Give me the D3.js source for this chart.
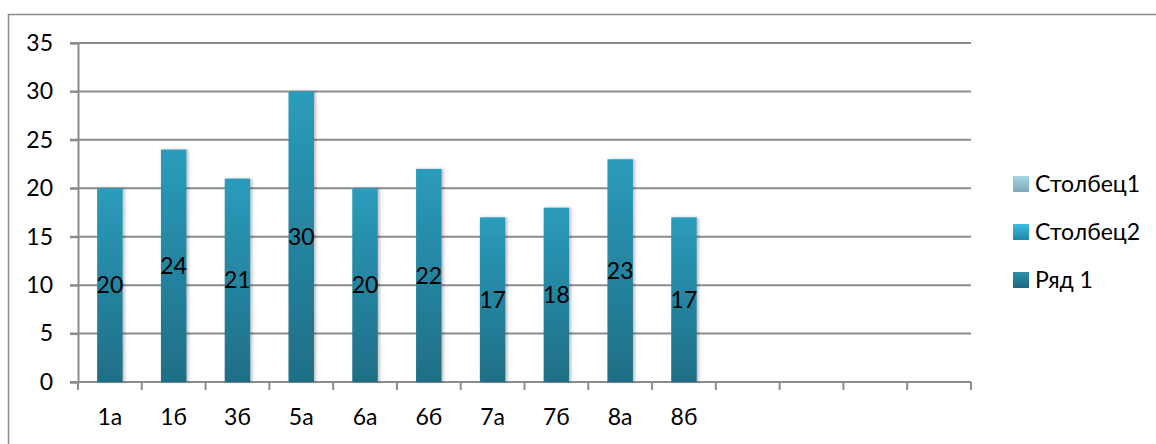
<!DOCTYPE html>
<html>
<head>
<meta charset="utf-8">
<script src="https://cdn.jsdelivr.net/npm/d3@7"></script>
<style>
  body { margin: 0; background: #fff; }
  text { font-family: Lato, "Open Sans", sans-serif; fill: #000; }
</style>
</head>
<body>
<script>
// Chart data
var categories = ["1а", "1б", "3б", "5а", "6а", "6б", "7а", "7б", "8а", "8б", "", " ", "  ", "   "];
var values = [20, 24, 21, 30, 20, 22, 17, 18, 23, 17];
var yTicks = [0, 5, 10, 15, 20, 25, 30, 35];
var legendNames = ["Столбец1", "Столбец2", "Ряд 1"];

var width = 1156, height = 444;
var margin = {top: 43, right: 185, bottom: 62, left: 78},
    plotW = width - margin.left - margin.right,
    plotH = height - margin.top - margin.bottom;

var svg = d3.select("body").append("svg")
    .attr("width", width)
    .attr("height", height);

// gradients for bars and legend keys
var defs = svg.append("defs");
function grad(id, top, bottom) {
  var g = defs.append("linearGradient").attr("id", id)
      .attr("x1", 0).attr("y1", 0).attr("x2", 0).attr("y2", 1);
  g.append("stop").attr("offset", "0%").attr("stop-color", top);
  g.append("stop").attr("offset", "100%").attr("stop-color", bottom);
}
grad("barGrad", "#2a9cbb", "#1f6e86");
grad("leg0", "#a6d6e6", "#7ea9ba");
grad("leg1", "#3bbde0", "#1f86a6");
grad("leg2", "#2b8fae", "#1e6880");

var shadow = defs.append("filter").attr("id", "shadow")
    .attr("x", "-20%").attr("y", "-5%").attr("width", "150%").attr("height", "110%");
shadow.append("feDropShadow").attr("dx", 2).attr("dy", 0)
    .attr("stdDeviation", 1.5).attr("flood-color", "#000").attr("flood-opacity", 0.25);

// outer chart border
svg.append("rect")
    .attr("x", 8.5).attr("y", 14.5)
    .attr("width", 1160).attr("height", 440)
    .attr("fill", "none").attr("stroke", "#8a8a8a").attr("stroke-width", 1.5);

var g = svg.append("g")
    .attr("transform", "translate(" + margin.left + "," + margin.top + ")");

var x = d3.scaleBand().domain(categories).range([0, plotW]).paddingInner(0.6).paddingOuter(0.3);
var xEdge = d3.scaleBand().domain(categories).range([0, plotW]);
var y = d3.scaleLinear().domain([0, 35]).range([plotH, 0]);

// horizontal gridlines
g.selectAll(".grid")
  .data(yTicks)
  .enter().append("line")
    .attr("x1", -8).attr("x2", plotW)
    .attr("y1", d => y(d)).attr("y2", d => y(d))
    .attr("stroke", "#8c8c8c").attr("stroke-width", 2);

// y axis
var yAxis = g.append("g")
    .call(d3.axisLeft(y).tickValues(yTicks).tickSize(8).tickPadding(17));
yAxis.attr("font-family", null);
yAxis.select(".domain").attr("stroke", "#8c8c8c").attr("stroke-width", 2);
yAxis.selectAll(".tick line").attr("stroke", "#8c8c8c").attr("stroke-width", 2);
yAxis.selectAll("text").style("font-size", "23px");

// x axis with ticks at category edges
var xAxisG = g.append("g").attr("transform", "translate(0," + plotH + ")");
xAxisG.append("line").attr("x1", 0).attr("x2", plotW)
    .attr("stroke", "#8c8c8c").attr("stroke-width", 2);
xAxisG.selectAll(".xt")
  .data(categories)
  .enter().append("line")
    .attr("x1", d => xEdge(d) + xEdge.bandwidth()).attr("x2", d => xEdge(d) + xEdge.bandwidth())
    .attr("y1", 0).attr("y2", 8)
    .attr("stroke", "#8c8c8c").attr("stroke-width", 2);
xAxisG.append("line").attr("x1", 0).attr("x2", 0).attr("y1", 0).attr("y2", 8)
    .attr("stroke", "#8c8c8c").attr("stroke-width", 2);
xAxisG.selectAll(".xl")
  .data(categories)
  .enter().append("text")
    .attr("x", d => xEdge(d) + xEdge.bandwidth() / 2)
    .attr("y", 35)
    .attr("dy", "0.35em")
    .attr("text-anchor", "middle")
    .style("font-size", "23px")
    .text(d => d.trim());

// bars
var barData = values.map((v, i) => ({cat: categories[i], val: v}));
g.selectAll(".bar")
  .data(barData)
  .enter().append("rect")
    .attr("x", d => x(d.cat))
    .attr("y", d => y(d.val))
    .attr("width", x.bandwidth())
    .attr("height", d => plotH - y(d.val))
    .attr("fill", "url(#barGrad)")
    .attr("filter", "url(#shadow)");

// data labels in the middle of each bar
g.selectAll(".lbl")
  .data(barData)
  .enter().append("text")
    .attr("x", d => x(d.cat) + x.bandwidth() / 2)
    .attr("y", d => y(d.val / 2))
    .attr("dy", "0.35em")
    .attr("text-anchor", "middle")
    .style("font-size", "23px")
    .text(d => d.val);

// legend
var legendY = [184, 232, 280];
var leg = svg.append("g");
leg.selectAll("rect")
  .data(legendNames)
  .enter().append("rect")
    .attr("x", 1013).attr("y", (d, i) => legendY[i] - 8)
    .attr("width", 16).attr("height", 16)
    .attr("fill", (d, i) => "url(#leg" + i + ")");
leg.selectAll("text")
  .data(legendNames)
  .enter().append("text")
    .attr("x", 1035).attr("y", (d, i) => legendY[i])
    .attr("dy", "0.35em")
    .style("font-size", "23px")
    .text(d => d);
</script>
</body>
</html>
